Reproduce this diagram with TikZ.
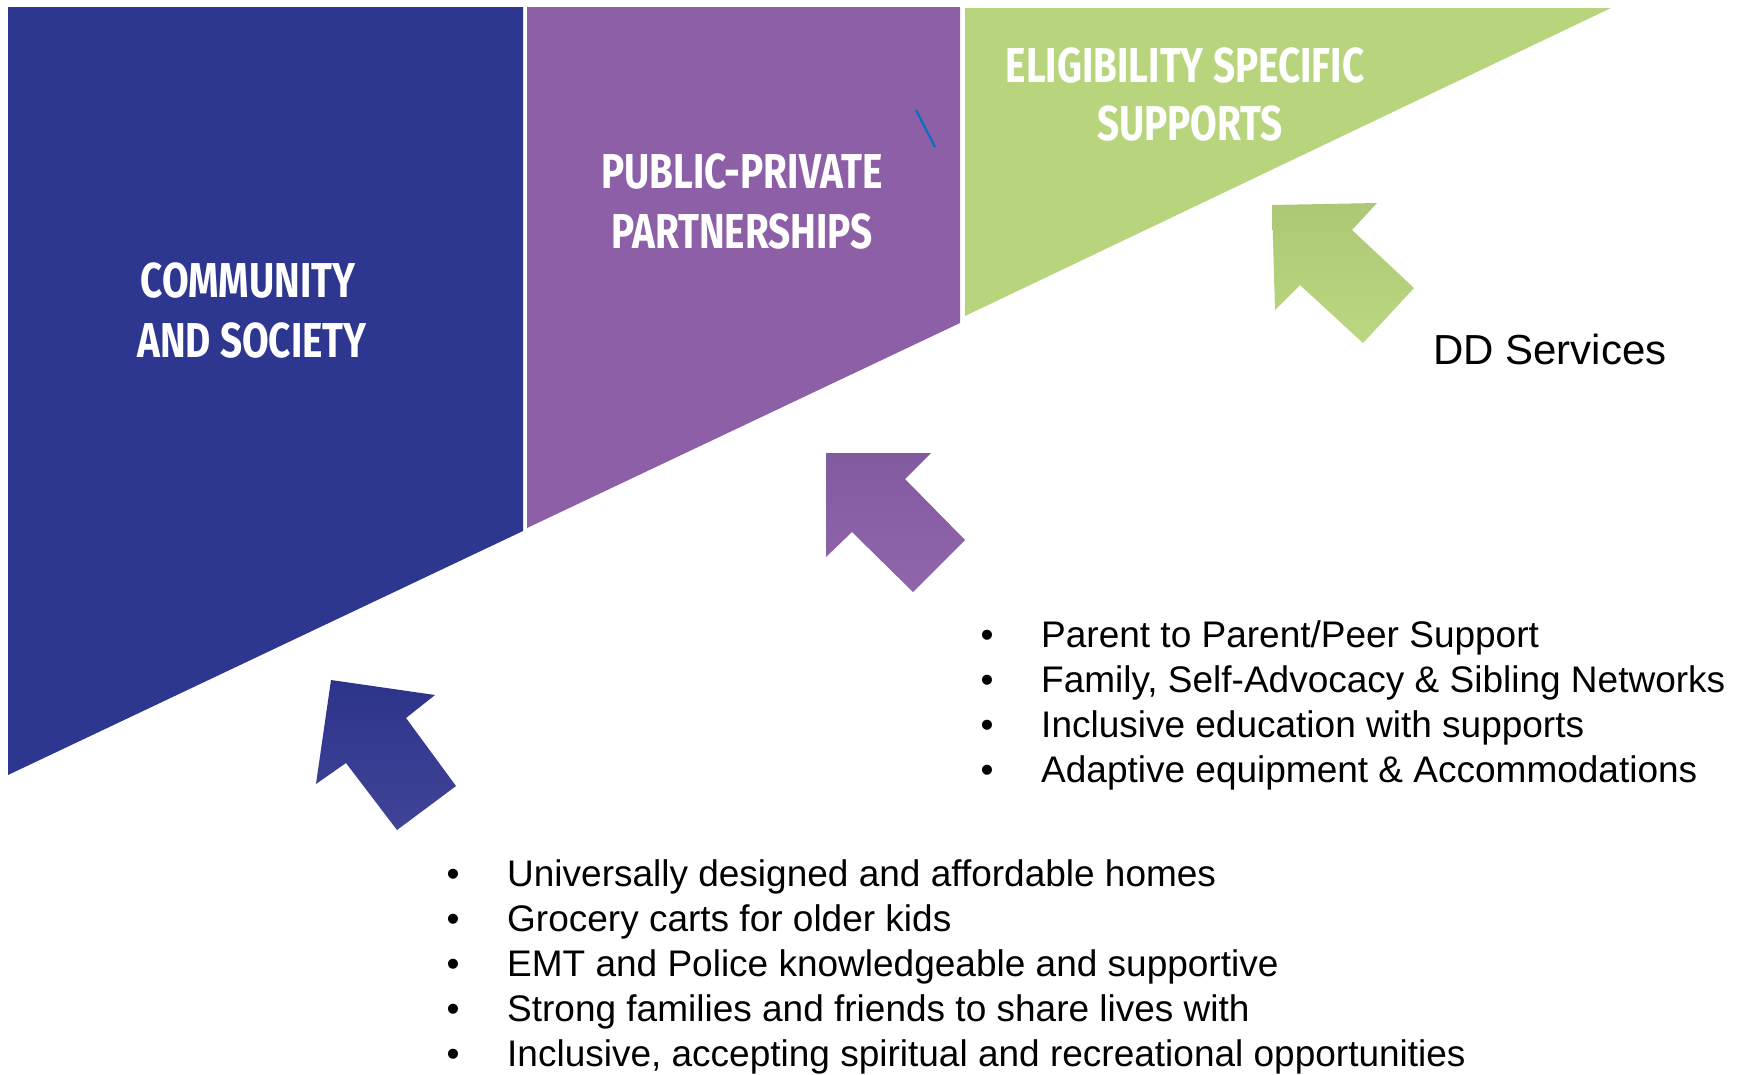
\documentclass[tikz,border=0pt]{standalone}
\usepackage{fontspec}
\setmainfont{Liberation Sans}
\newfontfamily\titlefont{Fira Sans}[FakeStretch=0.79]
\definecolor{cblue}{RGB}{46,55,144}
\definecolor{cpurple}{RGB}{140,95,167}
\definecolor{cgreen}{RGB}{184,213,126}
\definecolor{cline}{RGB}{0,112,192}
\begin{document}
\begin{tikzpicture}[x=1pt,y=-1pt,
  title/.style={text=white,font=\titlefont\bfseries\fontsize{49}{59}\selectfont,inner sep=0pt,anchor=base},
  item/.style={font=\fontsize{37}{45}\selectfont,inner sep=0pt,anchor=base west},
  dot/.style={font=\fontsize{37}{45}\selectfont,inner sep=0pt,anchor=base}]
\useasboundingbox (0,0) rectangle (1744,1074);
\fill[white] (0,0) rectangle (1744,1074);
% tiers
\fill[cblue] (8,7) -- (523,7) -- (523,531) -- (8,775) -- cycle;
\fill[cpurple] (527,7) -- (960,7) -- (960,323) -- (527,528) -- cycle;
\fill[cgreen] (965,8) -- (1611,8) -- (965,316) -- cycle;
\draw[cline,line width=2pt] (916,110) -- (935,147);
% arrows
\shade[top color={rgb,255:red,44;green,52;blue,138},bottom color={rgb,255:red,64;green,68;blue,152}]
  (331,680) -- (435,695) -- (406,718) -- (456,786) -- (397,830) -- (346,763) -- (316,784) -- cycle;
\shade[top color={rgb,255:red,130;green,90;blue,158},bottom color={rgb,255:red,144;green,101;blue,172}]
  (826,453) -- (931,453) -- (905,479) -- (965,540) -- (913,592) -- (852,532) -- (826,557) -- cycle;
\shade[top color={rgb,255:red,172;green,200;blue,117},bottom color={rgb,255:red,187;green,215;blue,129}]
  (1272,205) -- (1377,203) -- (1352,230) -- (1414,288) -- (1363,343) -- (1300,285) -- (1275,310) -- cycle;
% titles
\node[title] (t1a) at (248,297) {COMMUNITY};
\node[title] (t1b) at (252,357) {AND SOCIETY};
\node[title] (t2a) at (742,188) {PUBLIC-PRIVATE};
\node[title] (t2b) at (742,248) {PARTNERSHIPS};
\node[title] (t3a) at (1185,82) {ELIGIBILITY SPECIFIC};
\node[title] (t3b) at (1190,140) {SUPPORTS};
% DD services
\node[font=\fontsize{42}{50}\selectfont,inner sep=0pt,anchor=base west] (dd) at (1433,364) {DD Services};
% list 1
\node[dot] (b11) at (987,647) {•};
\node[dot] (b12) at (987,692) {•};
\node[dot] (b13) at (987,737) {•};
\node[dot] (b14) at (987,782) {•};
\node[item] (l11) at (1041,647) {Parent to Parent/Peer Support};
\node[item] (l12) at (1041,692) {Family, Self-Advocacy \& Sibling Networks};
\node[item] (l13) at (1041,737) {Inclusive education with supports};
\node[item] (l14) at (1041,782) {Adaptive equipment \& Accommodations};
% list 2
\node[dot] (b21) at (453,886) {•};
\node[dot] (b22) at (453,931) {•};
\node[dot] (b23) at (453,976) {•};
\node[dot] (b24) at (453,1021) {•};
\node[dot] (b25) at (453,1066) {•};
\node[item] (l21) at (507,886) {Universally designed and affordable homes};
\node[item] (l22) at (507,931) {Grocery carts for older kids};
\node[item] (l23) at (507,976) {EMT and Police knowledgeable and supportive};
\node[item] (l24) at (507,1021) {Strong families and friends to share lives with};
\node[item] (l25) at (507,1066) {Inclusive, accepting spiritual and recreational opportunities};
\end{tikzpicture}
\end{document}
